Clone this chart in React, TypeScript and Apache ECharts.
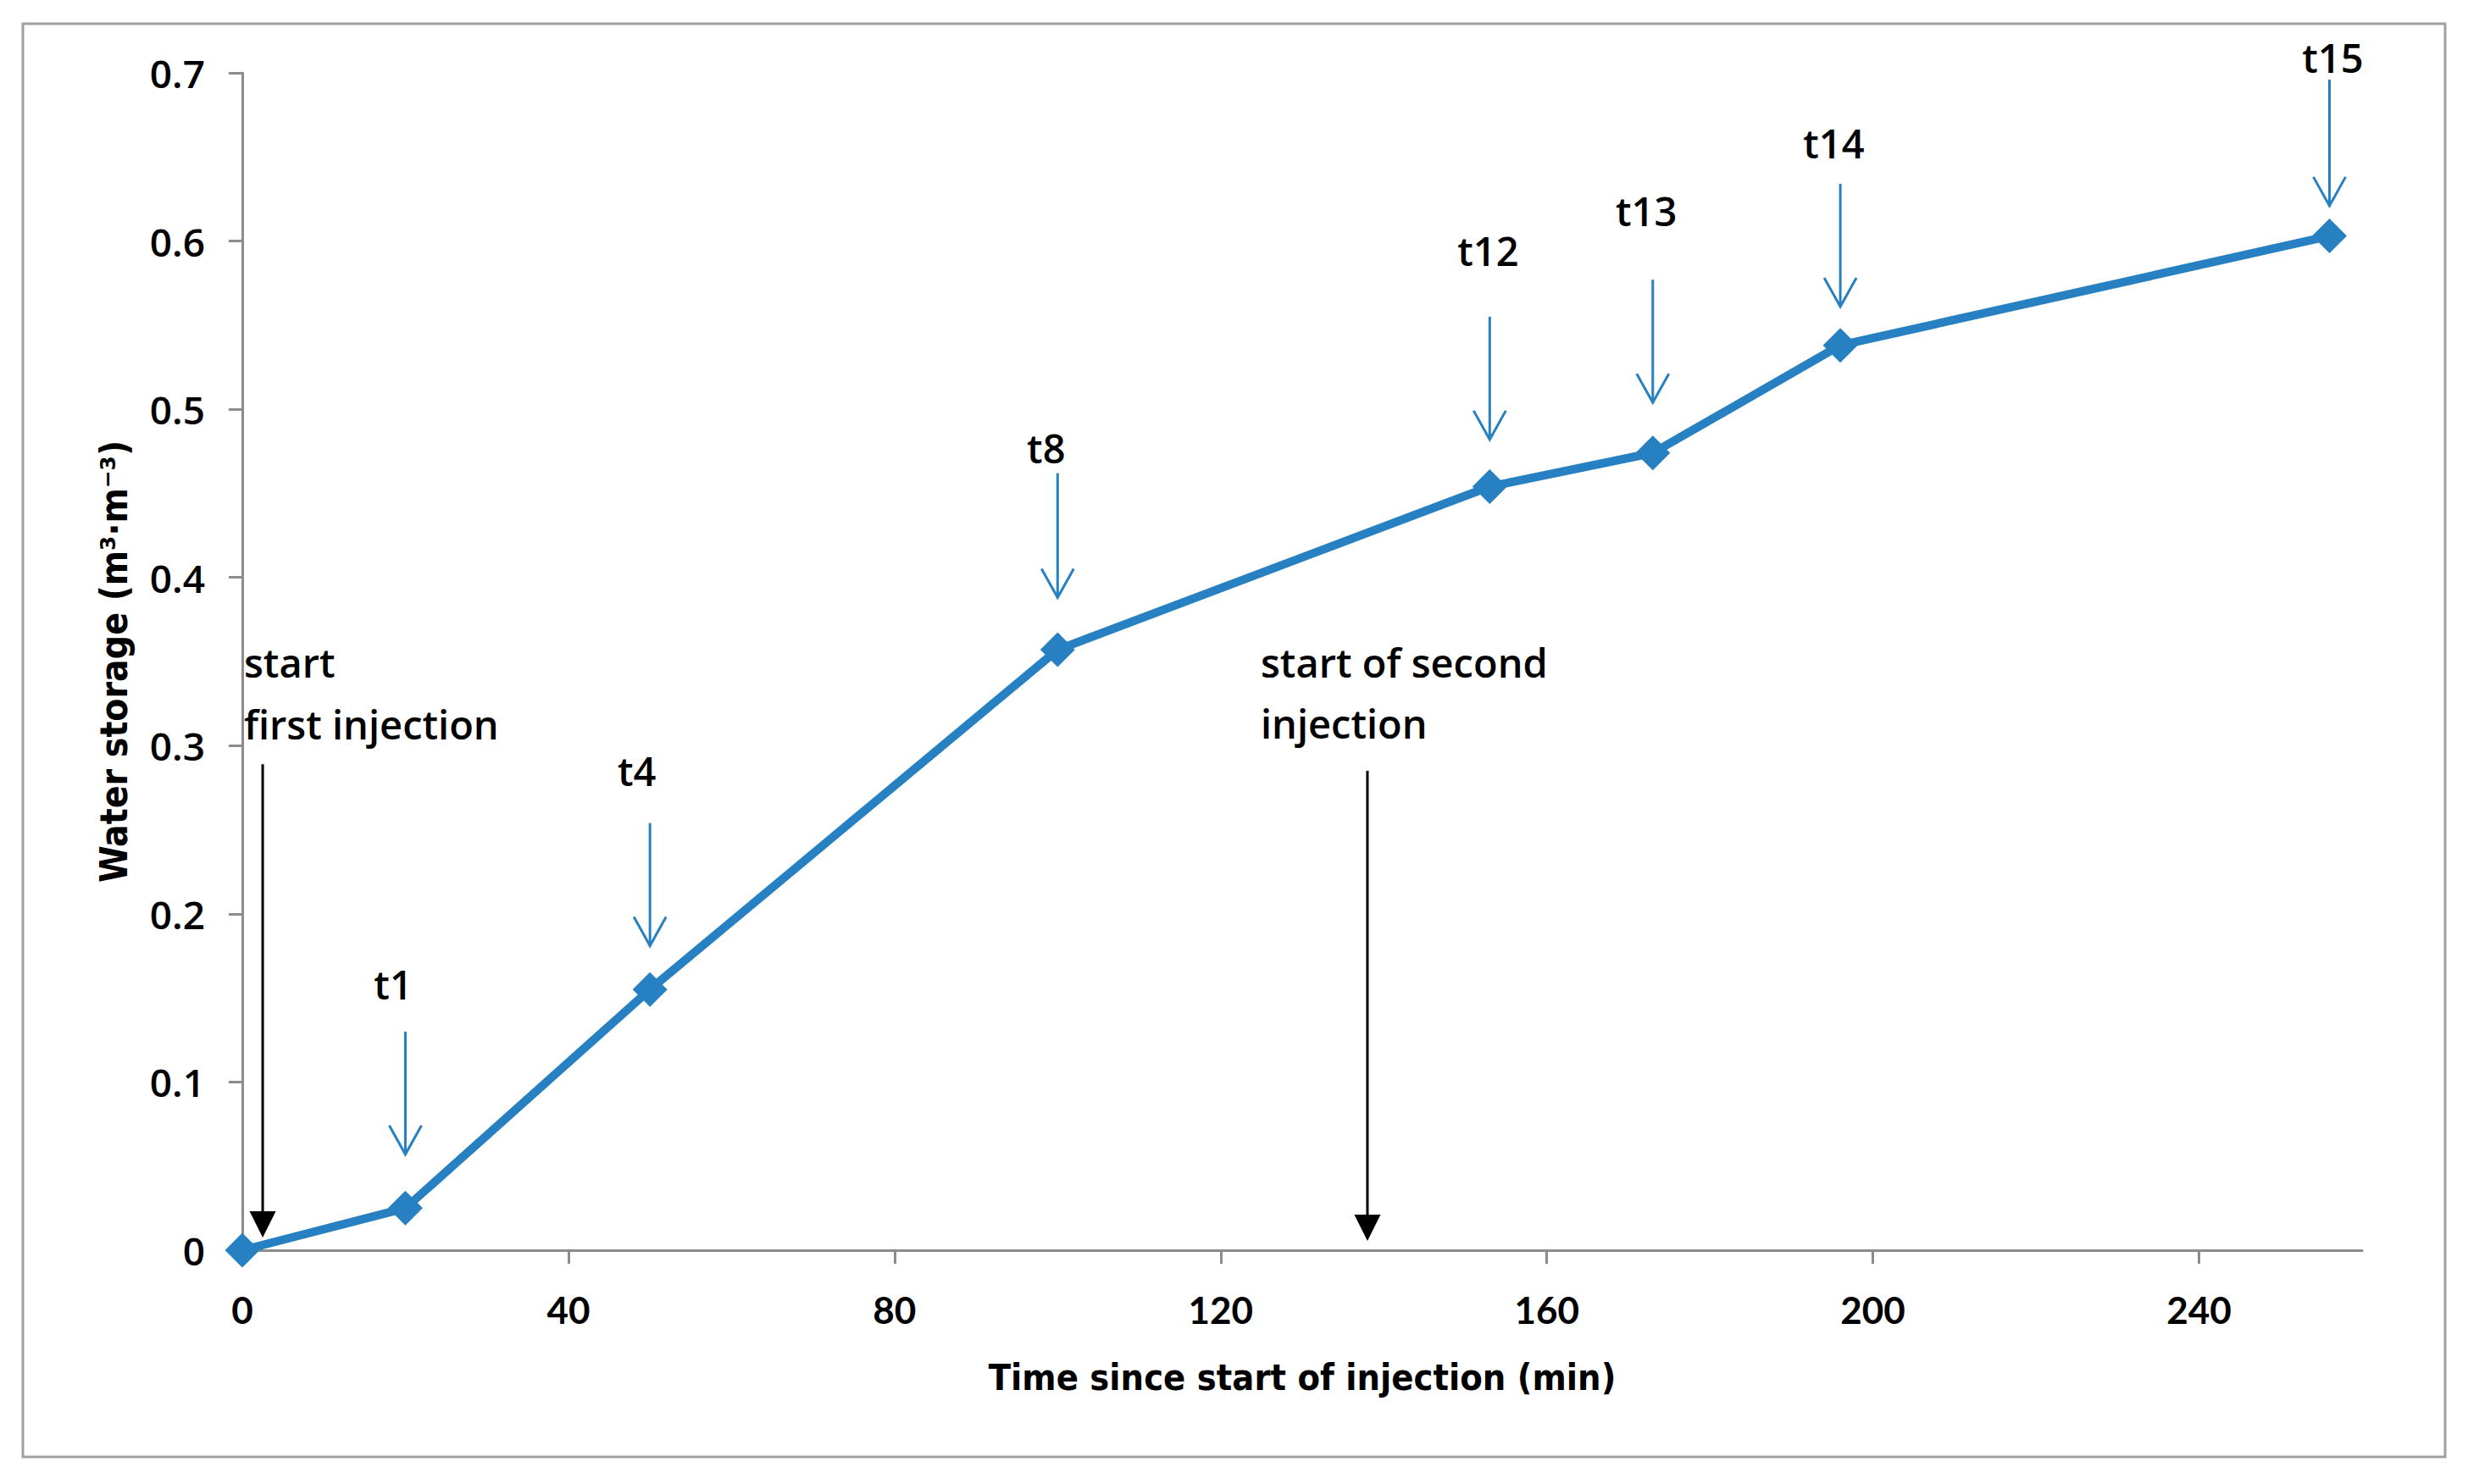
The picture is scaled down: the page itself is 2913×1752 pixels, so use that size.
import React, { useEffect, useRef } from 'react';
import * as echarts from 'echarts';

// ---- data ----
const timeMin = [0, 20, 50, 100, 153, 173, 196, 256];
const waterStorage = [0, 0.025, 0.155, 0.357, 0.454, 0.474, 0.538, 0.603];

const xTicks = [0, 40, 80, 120, 160, 200, 240];

// blue marker arrows (time labels)
const tLabels = ['t1', 't4', 't8', 't12', 't13', 't14', 't15'];
const tArrowX = [20, 50, 100, 153, 173, 196, 256];
const tArrowTop = [0.13, 0.254, 0.462, 0.555, 0.577, 0.634, 0.696];
const tArrowTip = [0.057, 0.181, 0.388, 0.482, 0.504, 0.561, 0.621];
const tLabelX = [18.5, 48.4, 98.6, 152.8, 172.2, 195.2, 256.4];
const tLabelY = [0.158, 0.285, 0.477, 0.594, 0.618, 0.658, 0.709];

// black injection arrows
const injArrowX = [2.5, 138];
const injArrowTop = [0.289, 0.285];
const injArrowTip = [0.0076, 0.0056];
const noteText = ['start', 'first injection', 'start of second', 'injection'];
const noteX = [0.2, 0.2, 124.9, 124.9];
const noteY = [0.3494, 0.3129, 0.3494, 0.3134];

const BLUE = '#2680c2';
const AXIS = '#8c8c8c';
const labelFont = { fontFamily: "'Open Sans', sans-serif", fontWeight: 600, fontSize: 46 };
const noteFont = { fontFamily: "'Open Sans', sans-serif", fontWeight: 600, fontSize: 47 };
const titleFont = { fontFamily: "'DejaVu Sans Condensed', 'Liberation Sans Narrow', sans-serif", fontWeight: 'bold', fontSize: 43 };

export default function App() {
  const ref = useRef<HTMLDivElement>(null);
  useEffect(() => {
    document.body.style.margin = '0';
    const chart = echarts.init(ref.current!, null, { renderer: 'svg' });
    const option: any = {
      animation: false,
      backgroundColor: '#ffffff',
      grid: { left: 286, right: 125, top: 86, bottom: 276 },
      graphic: [
        {
          type: 'rect',
          silent: true,
          z: -10,
          shape: { x: 27, y: 28, width: 2859, height: 1692 },
          style: { fill: 'none', stroke: '#a0a0a0', lineWidth: 3 },
        },
      ],
      xAxis: {
        type: 'value',
        min: 0,
        max: 260,
        interval: 40,
        axisLine: { show: true, onZero: false, lineStyle: { color: AXIS, width: 3 } },
        axisTick: { show: true, length: 16, customValues: xTicks, lineStyle: { color: AXIS, width: 3 } },
        axisLabel: {
          customValues: xTicks,
          margin: 48,
          color: '#000',
          fontFamily: "Lato, sans-serif",
          fontWeight: 'bold',
          fontSize: 44,
        },
        splitLine: { show: false },
        name: 'Time since start of injection (min)',
        nameLocation: 'middle',
        nameGap: 128,
        nameTextStyle: { color: '#000', ...titleFont },
      },
      yAxis: {
        type: 'value',
        min: 0,
        max: 0.7,
        interval: 0.1,
        axisLine: { show: true, lineStyle: { color: AXIS, width: 3 } },
        axisTick: { show: true, length: 16, lineStyle: { color: AXIS, width: 3 } },
        axisLabel: { margin: 44, color: '#000', ...labelFont },
        splitLine: { show: false },
        name: 'Water storage (m³·m⁻³)',
        nameLocation: 'middle',
        nameGap: 130,
        nameTextStyle: { color: '#000', ...titleFont, fontSize: 44 },
      },
      series: [
        {
          type: 'custom',
          clip: false,
          silent: true,
          z: 3,
          data: tArrowX.map((x, i) => [x, tArrowTop[i], tArrowTip[i]]),
          renderItem: (params: any, api: any) => {
            const x = api.value(0);
            const p1 = api.coord([x, api.value(1)]);
            const p2 = api.coord([x, api.value(2)]);
            const style = { stroke: BLUE, lineWidth: 3, fill: 'none' };
            return {
              type: 'group',
              children: [
                { type: 'line', shape: { x1: p1[0], y1: p1[1], x2: p2[0], y2: p2[1] }, style },
                {
                  type: 'polyline',
                  shape: { points: [[p2[0] - 19, p2[1] - 34], [p2[0], p2[1]], [p2[0] + 19, p2[1] - 34]] },
                  style,
                },
              ],
            };
          },
        },
        {
          type: 'custom',
          clip: false,
          silent: true,
          z: 3,
          data: injArrowX.map((x, i) => [x, injArrowTop[i], injArrowTip[i]]),
          renderItem: (params: any, api: any) => {
            const x = api.value(0);
            const p1 = api.coord([x, api.value(1)]);
            const p2 = api.coord([x, api.value(2)]);
            return {
              type: 'group',
              children: [
                {
                  type: 'line',
                  shape: { x1: p1[0], y1: p1[1], x2: p2[0], y2: p2[1] - 28 },
                  style: { stroke: '#000', lineWidth: 3 },
                },
                {
                  type: 'polygon',
                  shape: { points: [[p2[0] - 15.5, p2[1] - 31], [p2[0] + 15.5, p2[1] - 31], [p2[0], p2[1]]] },
                  style: { fill: '#000' },
                },
              ],
            };
          },
        },
        {
          type: 'custom',
          clip: false,
          silent: true,
          z: 4,
          data: tLabelX.map((x, i) => [x, tLabelY[i]]),
          renderItem: (params: any, api: any) => {
            const p = api.coord([api.value(0), api.value(1)]);
            return {
              type: 'text',
              x: p[0],
              y: p[1],
              style: { text: tLabels[params.dataIndex], fill: '#000', align: 'center', verticalAlign: 'middle', ...noteFont },
            };
          },
        },
        {
          type: 'custom',
          clip: false,
          silent: true,
          z: 4,
          data: noteX.map((x, i) => [x, noteY[i]]),
          renderItem: (params: any, api: any) => {
            const p = api.coord([api.value(0), api.value(1)]);
            return {
              type: 'text',
              x: p[0],
              y: p[1],
              style: { text: noteText[params.dataIndex], fill: '#000', align: 'left', verticalAlign: 'middle', ...noteFont },
            };
          },
        },
        {
          type: 'line',
          z: 5,
          silent: true,
          data: timeMin.map((t, i) => [t, waterStorage[i]]),
          symbol: 'diamond',
          symbolSize: 41,
          showSymbol: true,
          itemStyle: { color: BLUE },
          lineStyle: { color: BLUE, width: 10 },
        },
      ],
    };
    chart.setOption(option);
    return () => chart.dispose();
  }, []);
  return <div ref={ref} style={{ width: 2913, height: 1752 }} />;
}
